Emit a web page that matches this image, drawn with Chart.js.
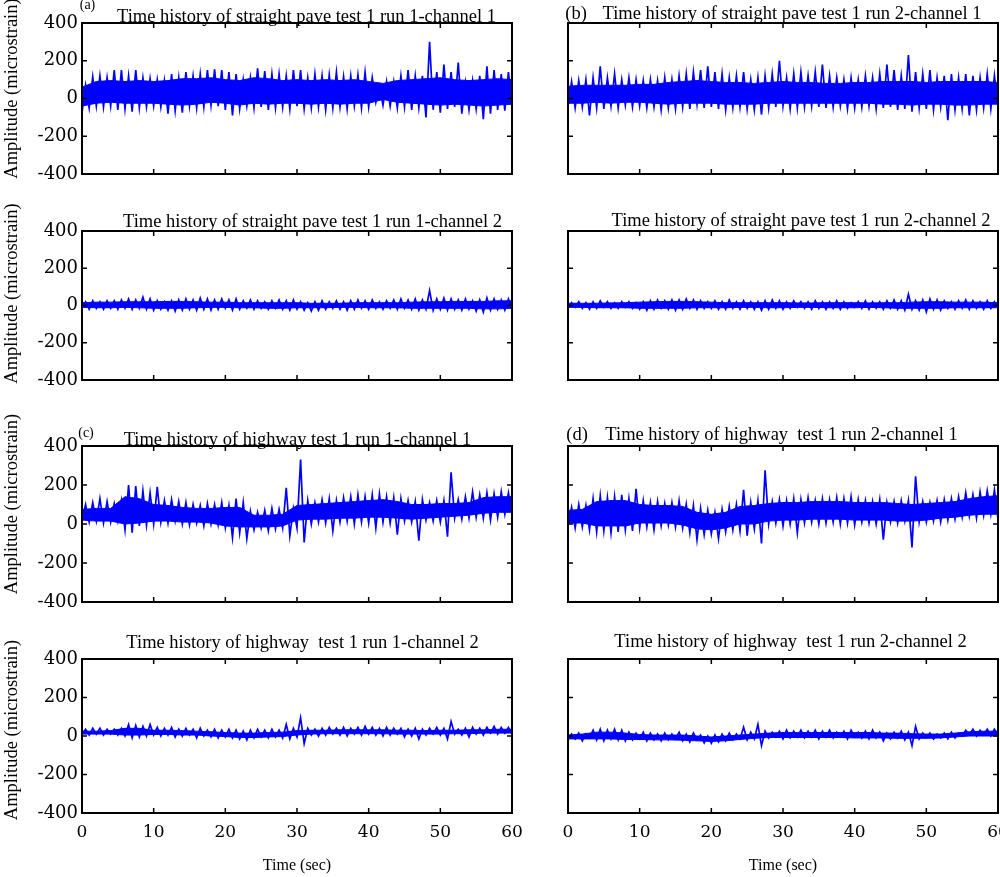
<!DOCTYPE html>
<html>
<head>
<meta charset="utf-8">
<script src="https://cdn.jsdelivr.net/npm/chart.js@4.4.1/dist/chart.umd.min.js"></script>
<style>
html,body{margin:0;padding:0;background:#fff;overflow:hidden;}
#wrap{position:relative;width:1000px;height:877px;overflow:hidden;background:#fff;}
</style>
</head>
<body>
<div id="wrap"></div>
<script>
// ---------------- data ----------------
const timeTicks = [0, 10, 20, 30, 40, 50, 60];
const timeTickLabels = ['0', '10', '20', '30', '40', '50', '60'];
const ampTicks = [-400, -200, 0, 200, 400];
const ampTickLabels = ['-400', '-200', '0', '200', '400'];

const titles = [
  'Time history of straight pave test 1 run 1-channel 1',
  'Time history of straight pave test 1 run 2-channel 1',
  'Time history of straight pave test 1 run 1-channel 2',
  'Time history of straight pave test 1 run 2-channel 2',
  'Time history of highway test 1 run 1-channel 1',
  'Time history of highway  test 1 run 2-channel 1',
  'Time history of highway  test 1 run 1-channel 2',
  'Time history of highway  test 1 run 2-channel 2'
];
const panelTags = ['(a)', '(b)', '', '', '(c)', '(d)', '', ''];
const yAxisTitle = 'Amplitude (microstrain)';
const xAxisTitle = 'Time (sec)';

// per-second spike highs (at t+0.5 s) and troughs (at t s), microstrain
const straightRun1Ch1Hi = [70,115,120,110,150,150,120,150,110,105, 100,95,130,110,140,120,130,150,155,150, 140,130,100,110,160,145,130,130,120,150, 150,110,130,120,125,140,115,120,125,140, 110,65,90,90,120,150,120,120,300,140, 180,140,190,85,95,120,170,150,130,140];
const straightRun1Ch1Lo = [-75,-50,-40,-45,-40,-60,-55,-70,-50,-45, -40,-45,-80,-65,-75,-40,-50,-45,-35,-40, -60,-90,-55,-40,-50,-45,-60,-50,-45,-55, -40,-55,-50,-45,-60,-50,-45,-55,-40,-50, -45,-20,-35,-40,-50,-45,-60,-50,-100,-60, -75,-55,-45,-80,-60,-55,-110,-80,-60,-65, -50];
// solid core band edges, every 2 s (t = 0, 2, ..., 60)
const straightRun1Ch1CoreHi = [60,90,95,90,95,90,95,105,105,110, 100,95,110,105,95,100,95,100,95,100, 90,80,95,100,105,110,100,95,100,105, 100];
const straightRun1Ch1CoreLo = [-40,-25,-20,-25,-25,-25,-30,-35,-30,-20, -25,-35,-25,-30,-25,-25,-30,-25,-30,-25, -25,-5,-20,-25,-30,-35,-30,-35,-40,-35, -30];

const straightRun2Ch1Hi = [90,95,100,110,170,110,130,100,110,100, 95,100,95,110,100,120,130,140,150,170, 140,130,110,120,140,100,110,120,130,200, 110,130,140,120,140,180,120,110,100,110, 100,120,110,130,180,150,120,230,140,130, 150,110,120,130,110,130,120,110,130,120];
const straightRun2Ch1Lo = [-40,-50,-45,-90,-50,-55,-40,-50,-35,-45, -40,-50,-45,-60,-50,-55,-45,-55,-30,-50, -45,-55,-60,-50,-45,-55,-60,-85,-50,-45, -40,-55,-50,-45,-40,-45,-50,-45,-40,-55, -50,-45,-40,-55,-50,-45,-60,-55,-70,-50, -55,-60,-45,-115,-60,-55,-90,-60,-50,-55, -50];
const straightRun2Ch1CoreHi = [65,70,70,70,70,75,75,85,90,95, 90,85,85,80,85,90,85,85,80,80, 85,85,90,90,90,85,90,90,90,90, 85];
const straightRun2Ch1CoreLo = [-25,-25,-20,-25,-20,-20,-25,-30,-25,-25, -25,-30,-30,-30,-25,-25,-25,-25,-25,-25, -25,-25,-30,-30,-35,-30,-30,-35,-35,-30, -30];

const straightRun1Ch2Hi = [20,25,20,25,25,30,35,30,45,35, 25,20,25,30,35,30,40,35,30,35, 30,35,25,30,25,20,25,30,25,30, 20,15,20,25,20,25,20,25,30,25, 30,20,25,30,35,30,35,30,80,35, 40,35,30,35,25,30,40,35,30,35];
const straightRun1Ch2Lo = [-15,-20,-15,-20,-15,-20,-15,-20,-15,-20, -25,-20,-25,-30,-25,-20,-25,-20,-25,-20, -15,-25,-20,-15,-20,-15,-20,-15,-20,-25, -20,-25,-30,-25,-20,-15,-20,-25,-20,-15, -20,-15,-20,-15,-20,-15,-20,-25,-20,-25, -20,-25,-20,-25,-20,-30,-35,-25,-20,-25, -20];
const straightRun1Ch2CoreHi = [15,18,18,20,20,20,22,22,20,18, 18,15,15,15,15,15,12,12,12,15, 15,15,15,18,20,20,22,22,22,25, 25];
const straightRun1Ch2CoreLo = [-10,-12,-12,-10,-12,-15,-15,-15,-12,-10, -10,-12,-12,-15,-15,-12,-12,-12,-10,-10, -12,-12,-12,-15,-15,-15,-15,-15,-18,-18, -15];

const straightRun2Ch2Hi = [15,20,15,20,25,20,15,20,20,15, 20,25,30,25,30,30,35,30,25,20, 25,20,30,20,25,20,20,25,30,25, 20,25,20,20,25,20,20,25,20,15, 20,25,20,20,25,30,25,60,25,30, 35,30,25,20,25,30,25,20,25,20];
const straightRun2Ch2Lo = [-15,-10,-15,-20,-15,-10,-15,-15,-10,-15, -20,-25,-20,-15,-20,-25,-20,-15,-20,-15, -15,-20,-20,-15,-20,-15,-20,-25,-20,-15, -20,-15,-10,-15,-20,-15,-20,-15,-20,-15, -10,-15,-20,-15,-20,-15,-20,-25,-20,-25, -35,-20,-25,-15,-20,-15,-20,-15,-20,-15, -15];
const straightRun2Ch2CoreHi = [12,12,12,14,15,18,20,22,22,20, 18,15,15,15,15,15,14,14,15,15, 15,14,15,15,18,20,20,18,18,18, 15];
const straightRun2Ch2CoreLo = [-10,-10,-12,-12,-12,-15,-15,-15,-15,-12, -12,-12,-10,-10,-12,-12,-10,-10,-12,-12, -12,-10,-12,-15,-15,-15,-15,-12,-12,-12, -12];

const highwayRun1Ch1Hi = [100,110,130,115,105,120,200,195,170,160, 190,120,125,115,110,100,95,105,100,110, 95,130,110,65,60,70,80,75,185,80, 330,120,110,125,130,120,135,140,150,140, 150,155,140,135,130,120,115,125,110,120, 120,265,125,140,165,150,160,155,165,160];
const highwayRun1Ch1Lo = [20,10,15,5,10,15,-30,-45,-10,-5, 0,10,5,15,0,-5,5,-10,0,-5, -20,-70,-45,-75,-30,-20,-35,-25,-20,-60, -20,-95,0,10,5,-35,10,15,0,10, 5,-20,10,5,-55,15,10,-85,20,15, 10,-65,30,25,30,35,30,20,35,50, 55];
const highwayRun1Ch1CoreHi = [75,80,80,140,130,100,95,85,80,80, 85,85,45,45,50,95,100,105,110,115, 120,125,115,100,100,105,105,110,135,140, 140];
const highwayRun1Ch1CoreLo = [20,15,15,0,5,15,15,10,10,5, -10,-15,-15,-15,-10,20,25,25,30,30, 35,35,30,25,30,35,40,45,55,60, 60];

const highwayRun2Ch1Hi = [85,100,95,130,145,135,140,150,130,180, 120,110,115,105,110,120,100,95,80,70, 60,75,90,100,175,110,120,275,115,125, 120,130,125,135,120,130,125,135,130,140, 125,120,115,125,110,115,120,120,245,115, 110,120,125,130,140,160,150,165,170,175];
const highwayRun2Ch1Lo = [-10,-20,-15,-30,-40,-35,-45,-40,-30,-35, -20,-15,-30,-10,-5,-15,-20,-45,-80,-55, -50,-75,-40,-30,-35,-60,-25,-100,0,5, -10,0,-45,5,10,0,5,10,0,5, -5,10,5,0,-80,10,5,15,-120,10, 10,15,10,20,25,35,40,30,45,50, 25];
const highwayRun2Ch1CoreHi = [70,75,115,120,120,100,95,95,90,60, 50,60,90,95,105,110,110,115,115,115, 110,110,110,105,100,105,110,115,130,140, 145];
const highwayRun2Ch1CoreLo = [5,5,-10,-10,-10,5,5,5,-5,-25, -30,-20,0,0,15,20,20,25,25,25, 20,20,20,15,15,20,30,35,45,50, 50];

const highwayRun1Ch2Hi = [35,40,40,35,35,40,60,55,50,60, 45,40,45,35,40,35,40,30,35,30, 35,30,25,30,35,30,35,30,60,40, 95,40,35,40,45,40,45,40,45,50, 45,40,45,40,40,35,40,35,40,45, 40,75,35,40,45,40,45,50,45,45];
const highwayRun1Ch2Lo = [10,5,10,5,10,5,0,-10,-5,0, 5,0,5,-5,0,5,-10,0,-5,-10, -5,-10,-15,-20,-10,-5,-10,-5,-10,-15, -5,-40,5,0,5,10,5,0,10,5, 10,5,0,5,10,-5,0,-15,5,10, 5,-15,10,5,-5,10,5,15,10,15, 10];
const highwayRun1Ch2CoreHi = [25,25,28,40,40,30,30,28,25,22, 18,15,15,18,20,28,30,30,32,32, 32,32,30,30,28,30,30,32,32,35, 35];
const highwayRun1Ch2CoreLo = [10,10,10,5,5,8,8,5,5,0, -3,-8,-8,-5,-3,5,10,12,12,12, 12,12,10,10,10,10,12,12,15,15, 15];

const highwayRun2Ch2Hi = [10,15,10,30,35,30,35,30,20,15, 20,15,10,15,10,20,10,15,5,0, 5,10,15,10,45,20,60,25,20,25, 30,25,30,25,30,25,30,20,25,30, 20,25,30,20,15,20,25,20,50,15, 15,10,15,20,15,30,35,30,35,35];
const highwayRun2Ch2Lo = [-20,-15,-25,-10,-20,-25,-15,-20,-25,-20, -15,-25,-20,-25,-20,-15,-25,-30,-20,-35, -38,-30,-25,-20,-15,-20,-15,-50,-10,-5, -15,-10,-5,-10,-5,-15,-5,-10,-5,-15, -5,-10,-15,-10,-25,-15,-10,-20,-50,-15, -10,-15,-10,-15,-10,0,5,0,5,0, 5];
const highwayRun2Ch2CoreHi = [5,10,20,20,15,8,5,5,5,0, -5,0,5,10,15,18,18,18,18,18, 18,18,15,15,12,10,10,15,22,25, 25];
const highwayRun2Ch2CoreLo = [-15,-15,-15,-15,-18,-18,-20,-20,-22,-25, -28,-25,-18,-12,-8,-8,-8,-8,-8,-8, -10,-10,-10,-12,-12,-12,-10,-5,0,0, 0];

const seriesHi = [straightRun1Ch1Hi, straightRun2Ch1Hi, straightRun1Ch2Hi, straightRun2Ch2Hi, highwayRun1Ch1Hi, highwayRun2Ch1Hi, highwayRun1Ch2Hi, highwayRun2Ch2Hi];
const seriesLo = [straightRun1Ch1Lo, straightRun2Ch1Lo, straightRun1Ch2Lo, straightRun2Ch2Lo, highwayRun1Ch1Lo, highwayRun2Ch1Lo, highwayRun1Ch2Lo, highwayRun2Ch2Lo];
const coreHi = [straightRun1Ch1CoreHi, straightRun2Ch1CoreHi, straightRun1Ch2CoreHi, straightRun2Ch2CoreHi, highwayRun1Ch1CoreHi, highwayRun2Ch1CoreHi, highwayRun1Ch2CoreHi, highwayRun2Ch2CoreHi];
const coreLo = [straightRun1Ch1CoreLo, straightRun2Ch1CoreLo, straightRun1Ch2CoreLo, straightRun2Ch2CoreLo, highwayRun1Ch1CoreLo, highwayRun2Ch1CoreLo, highwayRun1Ch2CoreLo, highwayRun2Ch2CoreLo];

// ---------------- layout / style ----------------
const SERIF = '"Liberation Serif", "Times New Roman", serif';
const TICKFONT = '"DejaVu Serif", serif';
Chart.defaults.font.family = SERIF;
Chart.defaults.color = '#000';
const BLUE = '#0000ff';

const cols = [{l: 82, r: 512, padR: 30}, {l: 568, r: 998, padR: 2}];
const rows = [{t: 23, b: 174, yTitleDy: -10}, {t: 231, b: 380, yTitleDy: -12}, {t: 446, b: 602, yTitleDy: -20}, {t: 659, b: 813, yTitleDy: -6}];
const PAD_T = 40, PAD_B = 14, YW = 82;

const panelStyle = [
  {col:0,row:0, tagSize:14,   tagDx:5.5, tagDy:-14.5, dx:9.5,  dy:-1},
  {col:1,row:0, tagSize:18.5, tagDx:8,   tagDy:-4,    dx:9,    dy:-4},
  {col:0,row:1, dx:15.5, dy:-4},
  {col:1,row:1, dx:18,   dy:-5},
  {col:0,row:2, tagSize:14,   tagDx:4,   tagDy:-9,    dx:0.5,  dy:-1.5},
  {col:1,row:2, tagSize:18.5, tagDx:9,   tagDy:-6,    dx:-1.5, dy:-6},
  {col:0,row:3, dx:5.5, dy:-11},
  {col:1,row:3, dx:7.5, dy:-12}
];

const framePlugin = {
  id: 'matlabFrame',
  afterDraw(chart, args, opts) {
    const {ctx, chartArea: a, scales: {x, y}} = chart;
    ctx.save();
    ctx.strokeStyle = '#000';
    ctx.lineWidth = 2;
    ctx.strokeRect(a.left, a.top, a.right - a.left, a.bottom - a.top);
    ctx.lineWidth = 1.5;
    ctx.beginPath();
    x.ticks.forEach(t => {
      const px = x.getPixelForValue(t.value);
      ctx.moveTo(px, a.bottom); ctx.lineTo(px, a.bottom - 5);
      ctx.moveTo(px, a.top); ctx.lineTo(px, a.top + 5);
    });
    y.ticks.forEach(t => {
      const py = y.getPixelForValue(t.value);
      ctx.moveTo(a.left, py); ctx.lineTo(a.left + 5, py);
      ctx.moveTo(a.right, py); ctx.lineTo(a.right - 5, py);
    });
    ctx.stroke();
    ctx.fillStyle = '#000';
    ctx.textAlign = 'center';
    ctx.textBaseline = 'alphabetic';
    ctx.font = '18.5px ' + SERIF;
    ctx.fillText(opts.text, (a.left + a.right) / 2 + opts.dx, a.top + opts.dy);
    if (opts.tag) {
      ctx.font = opts.tagSize + 'px ' + SERIF;
      ctx.fillText(opts.tag, a.left + opts.tagDx, a.top + opts.tagDy);
    }
    if (opts.yTitle) {
      ctx.save();
      ctx.font = '18.5px ' + SERIF;
      ctx.textBaseline = 'middle';
      ctx.translate(12.5, (a.top + a.bottom) / 2 + opts.yTitleDy);
      ctx.rotate(-Math.PI / 2);
      ctx.fillText(opts.yTitle, 0, 0);
      ctx.restore();
    }
    ctx.restore();
  }
};

const wrap = document.getElementById('wrap');
panelStyle.forEach((p, i) => {
  const c = cols[p.col], r = rows[p.row];
  const bottomRow = p.row === 3;
  const leftCol = p.col === 0;
  const padB = bottomRow ? 877 - r.b : PAD_B;
  const W = YW + (c.r - c.l) + c.padR;
  const H = PAD_T + (r.b - r.t) + padB;
  const cv = document.createElement('canvas');
  cv.width = W; cv.height = H;
  cv.style.cssText = `position:absolute;left:${c.l - YW}px;top:${r.t - PAD_T}px;width:${W}px;height:${H}px;`;
  wrap.appendChild(cv);

  const hi = seriesHi[i], lo = seriesLo[i];
  const pts = [];
  lo.forEach((v, k) => {
    pts.push({x: k, y: v});
    if (k < hi.length) pts.push({x: k + 0.5, y: hi[k]});
  });
  const cHi = coreHi[i].map((v, k) => ({x: k * 2, y: v}));
  const cLo = coreLo[i].map((v, k) => ({x: k * 2, y: v}));

  new Chart(cv, {
    type: 'line',
    data: {datasets: [
      {data: cHi, borderColor: BLUE, backgroundColor: BLUE, borderWidth: 1, pointRadius: 0, tension: 0, fill: '+1'},
      {data: cLo, borderColor: BLUE, borderWidth: 1, pointRadius: 0, tension: 0, fill: false},
      {data: pts, borderColor: BLUE, borderWidth: 1.7, pointRadius: 0, tension: 0, fill: false, borderJoinStyle: 'miter'}
    ]},
    options: {
      responsive: false, animation: false, events: [],
      layout: {padding: {left: 0, right: c.padR, top: PAD_T, bottom: 0}},
      plugins: {
        legend: {display: false}, tooltip: {enabled: false}, title: {display: false},
        matlabFrame: {text: titles[i], tag: panelTags[i], tagSize: p.tagSize, tagDx: p.tagDx, tagDy: p.tagDy, dx: p.dx, dy: p.dy,
                      yTitle: leftCol ? yAxisTitle : '', yTitleDy: r.yTitleDy}
      },
      scales: {
        x: {
          type: 'linear', min: 0, max: 60,
          grid: {display: false, drawTicks: false}, border: {display: false},
          afterBuildTicks: s => { s.ticks = timeTicks.map(v => ({value: v})); },
          ticks: {display: bottomRow, autoSkip: false, maxRotation: 0, padding: 9,
                  font: {family: TICKFONT, size: 17}, color: '#000',
                  callback: (v, k) => timeTickLabels[k]},
          title: {display: bottomRow, text: xAxisTitle, font: {family: SERIF, size: 16}, color: '#000', padding: {top: 0, bottom: 1.5}},
          afterFit: s => { s.height = padB; s.paddingLeft = 0; s.paddingRight = 0; }
        },
        y: {
          type: 'linear', min: -400, max: 400,
          grid: {display: false, drawTicks: false}, border: {display: false},
          afterBuildTicks: s => { s.ticks = ampTicks.map(v => ({value: v})); },
          ticks: {display: leftCol, autoSkip: false, padding: 4,
                  font: {family: TICKFONT, size: 18}, color: '#000',
                  callback: (v, k) => ampTickLabels[k]},
          title: {display: false},
          afterFit: s => { s.width = YW; s.paddingTop = 0; s.paddingBottom = 0; }
        }
      }
    },
    plugins: [framePlugin]
  });
});
</script>
</body>
</html>
